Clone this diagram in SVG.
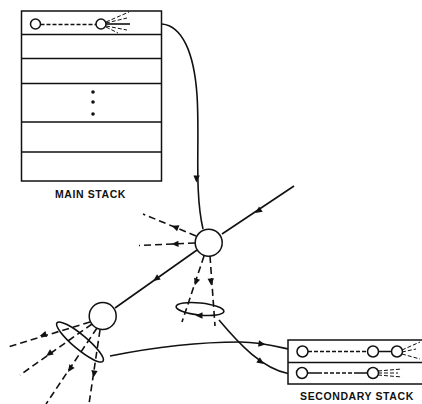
<svg xmlns="http://www.w3.org/2000/svg" width="422" height="404" viewBox="0 0 422 404">
<style>
.l{fill:none;stroke:#111;stroke-width:1.5}
.s{fill:none;stroke:#111;stroke-width:1.6}
.d{fill:none;stroke:#111;stroke-width:1.6;stroke-dasharray:7 4}
.f{fill:none;stroke:#111;stroke-width:1;stroke-dasharray:4 2}
.c{fill:#fff;stroke:#111;stroke-width:1.5}
.a{fill:#111}
text{font-family:"Liberation Sans",Arial,sans-serif;font-weight:700;font-size:10.5px;fill:#111;text-anchor:middle}
</style>
<defs><path id="h" d="M-3.5 -3.2L3.5 0L-3.5 3.2Z"/></defs>
<g id="main-stack">
<rect class="l" x="21.5" y="11" width="140" height="170"/>
<path class="l" d="M21.5 34.5H161.5M21.5 58.5H161.5M21.5 83.5H161.5M21.5 122H161.5M21.5 152H161.5"/>
<path class="s" stroke-dasharray="4 2" d="M40.500 24.500H96"/>
<path class="s" d="M106 24H130"/>
<path class="f" d="M106 22L129 12M106 23L127 18M106 26L127 30M106 27L118 33"/>
<circle class="c" cx="35.500" cy="24" r="5"/><circle class="c" cx="101" cy="24" r="5"/>
<circle class="a" cx="93" cy="92" r="1.800"/><circle class="a" cx="93" cy="102" r="1.800"/><circle class="a" cx="93" cy="114" r="1.800"/>
<text x="90.500" y="198" letter-spacing="0.6">MAIN STACK</text>
</g>
<g id="connectors">
<path class="s" d="M162 24C182 26 194 52 197 95C200 140 194 190 203 229"/>
<path class="s" d="M294 186L222 234"/>
<path class="s" d="M197 250L115 308"/>
<path class="d" d="M196 236L143 214"/>
<path class="d" d="M195 243L139 245.500"/>
<path class="d" d="M204 256L182 322"/>
<path class="d" d="M210 256L215 326"/>
<path class="d" d="M90 322L8 347"/>
<path class="d" d="M92 324L20 375"/>
<path class="d" d="M97 328L46 404"/>
<path class="d" d="M100 330L89 404"/>
<path class="s" d="M110 356C160 346 205 342 240 342C260 342 275 346 288 349"/>
<path class="s" d="M219 320C240 345 262 368 288 373.500"/>
<ellipse class="s" stroke-width="1.400" cx="200" cy="309" rx="24" ry="6" transform="rotate(6 200 309)"/>
<ellipse class="s" stroke-width="1.400" cx="80" cy="342" rx="30" ry="7" transform="rotate(40 80 342)"/>
<use class="a" href="#h" transform="translate(196.500 179) rotate(92)"/>
<use class="a" href="#h" transform="translate(258 211) rotate(146)"/>
<use class="a" href="#h" transform="translate(156 279) rotate(145)"/>
<use class="a" href="#h" transform="translate(175 227) rotate(202)"/>
<use class="a" href="#h" transform="translate(175 244) rotate(178)"/>
<use class="a" href="#h" transform="translate(196 282) rotate(108)"/>
<use class="a" href="#h" transform="translate(211 282) rotate(86)"/>
<use class="a" href="#h" transform="translate(199 315.500) rotate(180)"/>
<use class="a" href="#h" transform="translate(43 335) rotate(163)"/>
<use class="a" href="#h" transform="translate(49 354) rotate(145)"/>
<use class="a" href="#h" transform="translate(70 369) rotate(124)"/>
<use class="a" href="#h" transform="translate(94 374) rotate(98)"/>
<use class="a" href="#h" transform="translate(262 344) rotate(8)"/>
<use class="a" href="#h" transform="translate(261 362) rotate(35)"/>
</g>
<g id="node-upper"><circle class="c" cx="208.700" cy="242.700" r="13.500"/></g>
<g id="node-lower"><circle class="c" cx="102.700" cy="316" r="13.500"/></g>
<g id="secondary-stack">
<rect class="l" x="288" y="340" width="135" height="44"/>
<path class="l" d="M288 362.500H422"/>
<path class="s" stroke-dasharray="4 2" d="M308 351.500H368"/>
<path class="s" d="M378 351.500H392M307 373H318M355 373H368"/>
<path class="s" stroke-dasharray="4 2" d="M318 373H355"/>
<path class="f" d="M402 350L420 342M402 352L416 349M402 354L420 359"/>
<path class="f" d="M378 371L402 369M378 373L398 373M378 375L402 377"/>
<circle class="c" cx="302.500" cy="351.500" r="5.500"/><circle class="c" cx="373" cy="351.500" r="5.500"/><circle class="c" cx="397" cy="351.500" r="5.500"/>
<circle class="c" cx="302" cy="373" r="5.500"/><circle class="c" cx="373" cy="373" r="5.500"/>
<text x="357" y="400" letter-spacing="0.6">SECONDARY STACK</text>
</g>
</svg>
